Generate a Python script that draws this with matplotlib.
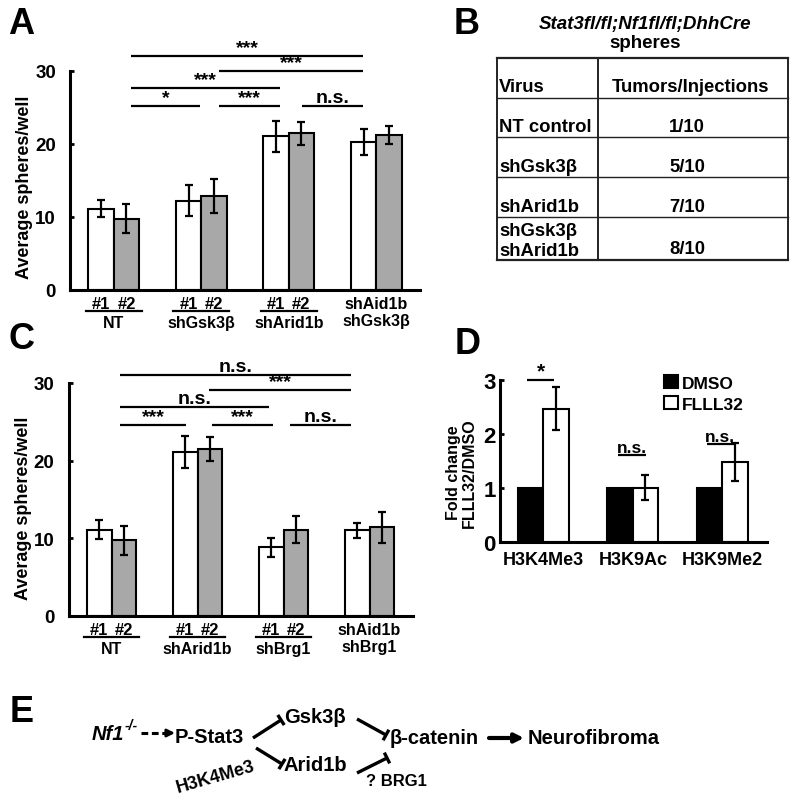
import matplotlib
matplotlib.use("Agg")
import matplotlib.pyplot as plt
import matplotlib.transforms as mtransforms
import numpy as np

plt.rcParams["font.family"] = ["Liberation Sans", "DejaVu Sans"]
plt.rcParams["font.weight"] = "bold"

# panel A: spheres per well, two hairpins per group
a_groups = ["NT", "shGsk3β", "shArid1b", "shAid1b\nshGsk3β"]
a_mean1 = [11.1, 12.2, 21.0, 20.2]
a_err1 = [1.2, 2.1, 2.1, 1.8]
a_mean2 = [9.7, 12.8, 21.4, 21.2]
a_err2 = [2.0, 2.3, 1.6, 1.2]
a_sig = [(0.2, 2.85, 32.0, "***"), (1.2, 2.85, 29.9, "***"), (0.2, 1.9, 27.6, "***"),
         (0.2, 0.98, 25.1, "*"), (1.2, 1.9, 25.1, "***"), (2.15, 2.85, 25.1, "n.s.")]

# panel C
c_groups = ["NT", "shArid1b", "shBrg1", "shAid1b\nshBrg1"]
c_mean1 = [11.1, 21.1, 8.8, 11.0]
c_err1 = [1.2, 2.1, 1.25, 1.0]
c_mean2 = [9.7, 21.5, 11.1, 11.4]
c_err2 = [1.9, 1.6, 1.75, 2.0]
c_sig = [(0.1, 2.79, 31.0, "n.s."), (1.13, 2.79, 29.1, "***"), (0.1, 1.83, 26.9, "n.s."),
         (0.1, 0.87, 24.6, "***"), (1.17, 1.88, 24.6, "***"), (2.08, 2.79, 24.6, "n.s.")]

# panel D: fold change of histone marks
d_marks = ["H3K4Me3", "H3K9Ac", "H3K9Me2"]
d_dmso = [1.0, 1.0, 1.0]
d_flll = [2.47, 1.0, 1.48]
d_flll_err = [0.4, 0.23, 0.36]
d_sig = [(-0.18, 0.12, 3.0, "*"), (0.84, 1.15, 1.61, "n.s."), (1.83, 2.13, 1.81, "n.s.")]

# panel B table
b_title = "Stat3fl/fl;Nf1fl/fl;DhhCre"
b_header = ["Virus", "Tumors/Injections"]
b_virus = ["NT control", "shGsk3β", "shArid1b", "shGsk3β\nshArid1b"]
b_ratio = ["1/10", "5/10", "7/10", "8/10"]

W, H = 800, 804
fig = plt.figure(figsize=(W / 100, H / 100), dpi=100)


def px_axes(left, right, top, bottom):
    return fig.add_axes([left / W, 1 - bottom / H, (right - left) / W, (bottom - top) / H])


def below(ax, pts):
    base = mtransforms.blended_transform_factory(ax.transData, ax.transAxes)
    return base + mtransforms.ScaledTranslation(0, -pts / 72, fig.dpi_scale_trans)


def style_axes(ax, tick_size, pad):
    for s in ["top", "right"]:
        ax.spines[s].set_visible(False)
    for s in ["left", "bottom"]:
        ax.spines[s].set_linewidth(2.2)
    ax.set_xticks([])
    ax.tick_params(axis="y", direction="in", length=3, width=2, pad=pad, labelsize=tick_size)


def sig_lines(ax, sig, sizes):
    for x0, x1, y, lab in sig:
        ax.plot([x0, x1], [y, y], color="black", lw=1.6, clip_on=False, solid_capstyle="butt")
        ax.text((x0 + x1) / 2, y, lab, ha="center", va="bottom", fontsize=sizes[lab],
                fontweight="bold", clip_on=False)


def sphere_panel(ax, groups, m1, e1, m2, e2, sig, width):
    x = np.arange(len(groups))
    ekw = dict(elinewidth=1.6, capsize=3, capthick=1.6, ecolor="black")
    ax.bar(x - width / 2, m1, width, yerr=e1, color="white", edgecolor="black",
           linewidth=1.5, error_kw=ekw)
    ax.bar(x + width / 2, m2, width, yerr=e2, color="#a8a8a8", edgecolor="black",
           linewidth=1.5, error_kw=ekw)
    ax.set_xlim(-0.5, 3.5)
    ax.set_ylim(0, 30)
    ax.set_yticks([0, 10, 20, 30])
    style_axes(ax, 13.5, 10)
    ax.set_ylabel("Average spheres/well", fontsize=13, fontweight="bold")
    sig_lines(ax, sig, {"***": 14, "*": 14, "n.s.": 14})
    for i, g in enumerate(groups):
        if "\n" in g:
            ax.text(i, 0, g, transform=below(ax, 4.5), ha="center", va="top",
                    fontsize=11.5, linespacing=1.2)
            continue
        ax.text(i - width / 2, 0, "#1", transform=below(ax, 4.5), ha="center", va="top", fontsize=12)
        ax.text(i + width / 2, 0, "#2", transform=below(ax, 4.5), ha="center", va="top", fontsize=12)
        ax.plot([i - 0.32, i + 0.32], [0, 0], transform=below(ax, 15.2), color="black",
                lw=1.6, clip_on=False)
        ax.text(i, 0, g, transform=below(ax, 18.5), ha="center", va="top", fontsize=11.5)


# A
ax_a = px_axes(70, 420, 71.7, 290.7)
sphere_panel(ax_a, a_groups, a_mean1, a_err1, a_mean2, a_err2, a_sig, 0.29)
ax_a.yaxis.set_label_coords(-0.106, 0.47)

# C
ax_c = px_axes(68.5, 412.5, 384, 616.7)
sphere_panel(ax_c, c_groups, c_mean1, c_err1, c_mean2, c_err2, c_sig, 0.285)
ax_c.yaxis.set_label_coords(-0.106, 0.467)

# D
ax_d = px_axes(500, 766.7, 381, 542.7)
xd = np.arange(len(d_marks))
wd = 0.285
ax_d.bar(xd - wd / 2, d_dmso, wd, color="black", edgecolor="black", linewidth=1.5, label="DMSO")
ax_d.bar(xd + wd / 2, d_flll, wd, yerr=d_flll_err, color="white", edgecolor="black",
         linewidth=1.5, label="FLLL32",
         error_kw=dict(elinewidth=1.6, capsize=3, capthick=1.6, ecolor="black"))
ax_d.set_xlim(-0.487, 2.5)
ax_d.set_ylim(0, 3)
ax_d.set_yticks([0, 1, 2, 3])
style_axes(ax_d, 16, 3)
ax_d.set_ylabel("Fold change\nFLLL32/DMSO", fontsize=11.5, fontweight="bold", linespacing=1.1)
ax_d.yaxis.set_label_coords(-0.085, 0.43)
for i, m in enumerate(d_marks):
    ax_d.text(i, 0, m, transform=below(ax_d, 7), ha="center", va="top", fontsize=13)
sig_lines(ax_d, d_sig, {"*": 15, "n.s.": 12.5})
ax_d.legend(loc="upper left", bbox_to_anchor=(0.615, 1.03), frameon=False, fontsize=12.5,
            handlelength=0.8, handleheight=0.8, handletextpad=0.2, labelspacing=0.3,
            borderpad=0, borderaxespad=0)

# overlay in pixel coordinates for letters, table and the pathway sketch
ov = fig.add_axes([0, 0, 1, 1])
ov.set_xlim(0, W)
ov.set_ylim(H, 0)
ov.axis("off")
ov.patch.set_alpha(0)

for lab, x, y in [("A", 8, 34), ("B", 454, 34), ("C", 8, 349), ("D", 455, 354), ("E", 10, 722)]:
    ov.text(x, y, lab, fontsize=26, fontweight="bold", va="baseline", ha="left")

# B
ov.text(645, 25, b_title, fontsize=13.5, fontweight="bold", style="italic", ha="center", va="center")
ov.text(645, 43, "spheres", fontsize=13.5, fontweight="bold", ha="center", va="center")
row_lines = [59.3, 99, 138.3, 178.3, 218.3, 261]
tl, tm, tr = 497, 598, 788
for k, y in enumerate(row_lines):
    ov.plot([tl, tr], [y, y], color="#222222", lw=1.6 if k in (0, len(row_lines) - 1) else 1.0)
for x in (tl, tm, tr):
    ov.plot([x, x], [row_lines[0], row_lines[-1]], color="#222222", lw=1.4)
cell_fs = 13.3
ov.text(tl + 2, row_lines[1] - 11, b_header[0], fontsize=cell_fs, fontweight="bold", va="center")
ov.text(690, row_lines[1] - 11, b_header[1], fontsize=cell_fs, fontweight="bold", va="center",
        ha="center")
for k, (v, r) in enumerate(zip(b_virus, b_ratio)):
    yb = row_lines[k + 2] - 11
    if "\n" in v:
        ov.text(tl + 2, yb + 6, v, fontsize=cell_fs, fontweight="bold", va="baseline",
                linespacing=1.2)
    else:
        ov.text(tl + 2, yb, v, fontsize=cell_fs, fontweight="bold", va="center")
    ov.text(687, yb, r, fontsize=cell_fs, fontweight="bold", va="center", ha="center")

# E pathway
fs = 14.5
nf = ov.text(92, 740, "Nf1", fontsize=14.5, fontweight="bold", style="italic", va="baseline")
fig.canvas.draw()
bb = nf.get_window_extent().transformed(ov.transData.inverted())
sup = ov.text(bb.x1, 730, "-/-", fontsize=10, fontweight="bold", style="italic", va="baseline")
fig.canvas.draw()
sb = sup.get_window_extent().transformed(ov.transData.inverted())
ov.plot([sb.x1 + 3, 168], [734, 734], color="black", lw=2.2, ls=(0, (2.2, 1.2)))
ov.annotate("", xy=(175, 734), xytext=(166, 734),
            arrowprops=dict(arrowstyle="-|>", color="black", lw=2, mutation_scale=11,
                            shrinkA=0, shrinkB=0))
ov.text(175, 738, "P-Stat3", fontsize=fs, fontweight="bold", va="center")
ov.text(284, 718, "Gsk3β", fontsize=fs, fontweight="bold", va="center")
ov.text(284, 766, "Arid1b", fontsize=fs, fontweight="bold", va="center")
ov.text(390, 739, "β-catenin", fontsize=fs, fontweight="bold", va="center")
ov.text(528, 739, "Neurofibroma", fontsize=fs, fontweight="bold", va="center")
ov.text(366, 782, "? BRG1", fontsize=12, fontweight="bold", va="center")
ov.text(178, 793, "H3K4Me3", fontsize=13, fontweight="bold", va="baseline", ha="left",
        rotation=16, rotation_mode="anchor")


def inhibit(p0, p1, half=6):
    ov.plot([p0[0], p1[0]], [p0[1], p1[1]], color="black", lw=2.4, solid_capstyle="butt")
    dx, dy = p1[0] - p0[0], p1[1] - p0[1]
    L = np.hypot(dx, dy)
    nx, ny = -dy / L, dx / L
    ov.plot([p1[0] - nx * half, p1[0] + nx * half], [p1[1] - ny * half, p1[1] + ny * half],
            color="black", lw=2.4, solid_capstyle="butt")


inhibit((253, 739), (281, 721))
inhibit((256, 749), (282, 765))
inhibit((357, 720), (386, 736))
inhibit((357, 774), (387, 759))
ov.annotate("", xy=(524, 739), xytext=(489, 739),
            arrowprops=dict(arrowstyle="-|>", color="black", lw=3, mutation_scale=13,
                            shrinkA=0, shrinkB=0))

fig.savefig("out.png", dpi=100)
